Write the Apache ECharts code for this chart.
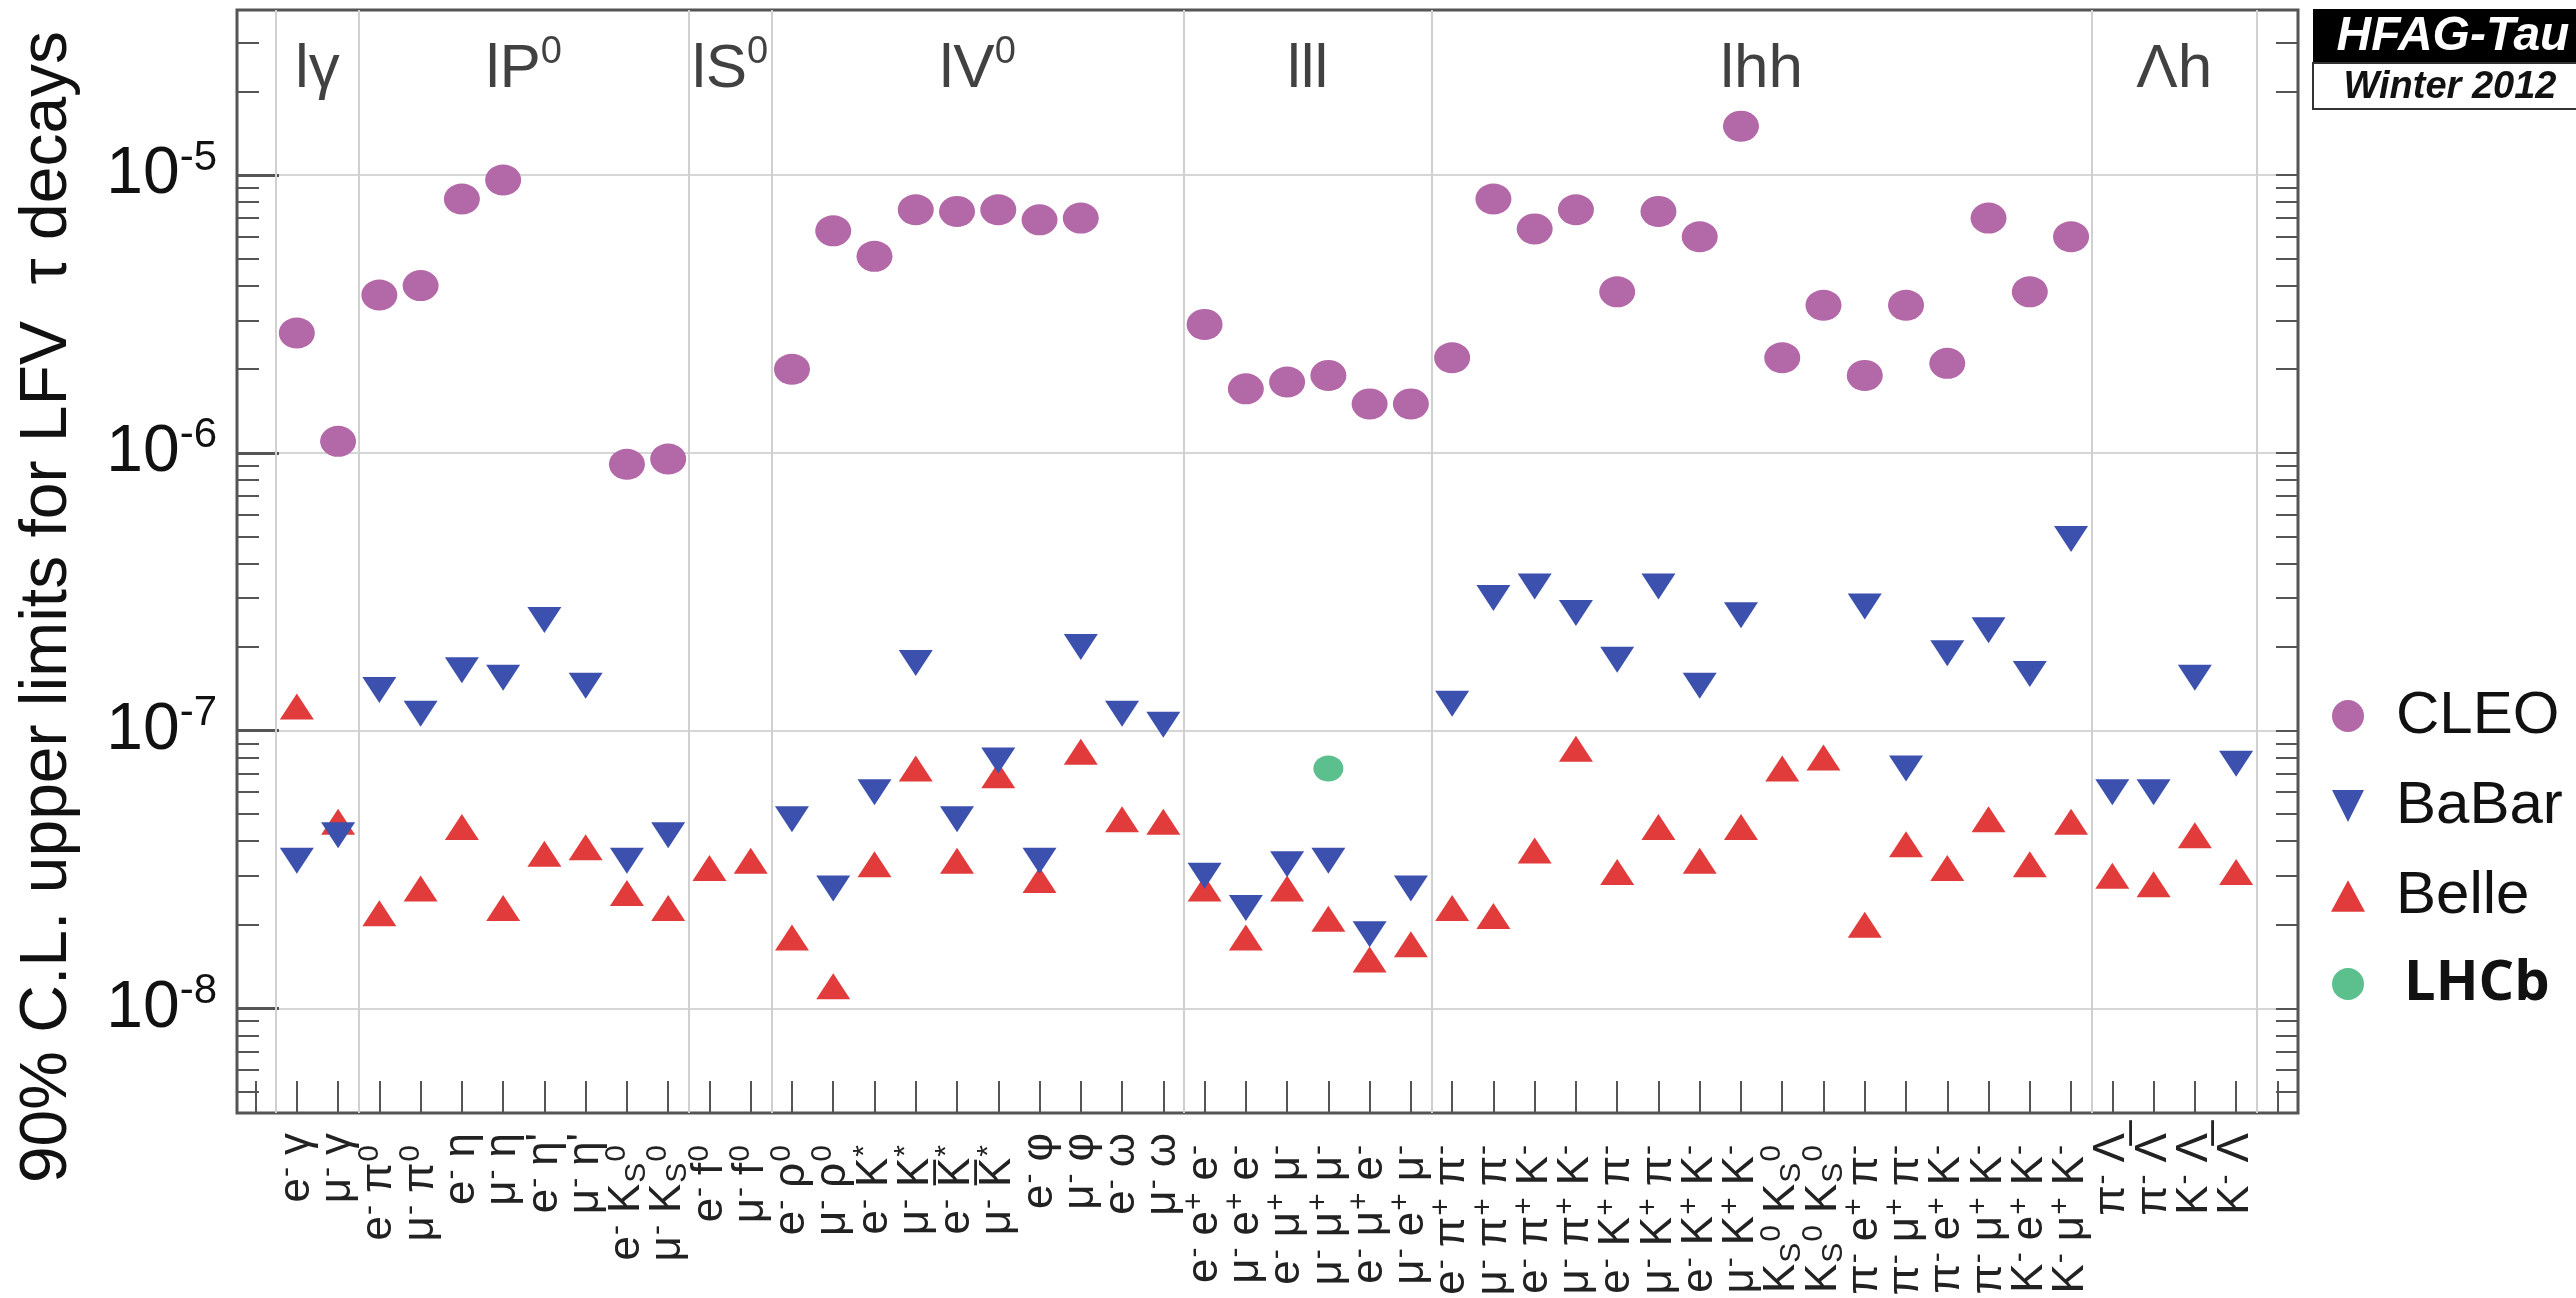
<!DOCTYPE html>
<html>
<head>
<meta charset="utf-8">
<script src="https://cdn.jsdelivr.net/npm/echarts@6/dist/echarts.min.js"></script>
<style>
html, body { margin: 0; padding: 0; background: #fff; }
#chart { width: 2576px; height: 1298px; }
</style>
</head>
<body>
<div id="chart"></div>
<script>
// decay modes, ^x = superscript, _x = subscript, \u0305 = bar
var decays = [
  "e^-γ", "μ^-γ",
  "e^-π^0", "μ^-π^0", "e^-η", "μ^-η", "e^-η'", "μ^-η'", "e^-K_S^0", "μ^-K_S^0",
  "e^-f^0", "μ^-f^0",
  "e^-ρ^0", "μ^-ρ^0", "e^-K^*", "μ^-K^*", "e^-K\u0305^*", "μ^-K\u0305^*", "e^-φ", "μ^-φ", "e^-ω", "μ^-ω",
  "e^-e^+e^-", "μ^-e^+e^-", "e^-μ^+μ^-", "μ^-μ^+μ^-", "e^-μ^+e^-", "μ^-e^+μ^-",
  "e^-π^+π^-", "μ^-π^+π^-", "e^-π^+K^-", "μ^-π^+K^-", "e^-K^+π^-", "μ^-K^+π^-",
  "e^-K^+K^-", "μ^-K^+K^-", "e^-K_S^0K_S^0", "μ^-K_S^0K_S^0",
  "π^-e^+π^-", "π^-μ^+π^-", "π^-e^+K^-", "π^-μ^+K^-", "K^-e^+K^-", "K^-μ^+K^-",
  "π^-Λ", "π^-Λ\u0305", "K^-Λ", "K^-Λ\u0305"
];
var groupNames = ["lγ", "lP^0", "lS^0", "lV^0", "lll", "lhh", "Λh"];
var groupEdges = [-0.5, 1.5, 9.5, 11.5, 21.5, 27.5, 43.5, 47.5];

var cleo = [
  2.7e-6, 1.1e-6,
  3.7e-6, 4.0e-6, 8.2e-6, 9.6e-6, null, null, 9.1e-7, 9.5e-7,
  null, null,
  2.0e-6, 6.3e-6, 5.1e-6, 7.5e-6, 7.4e-6, 7.5e-6, 6.9e-6, 7.0e-6, null, null,
  2.9e-6, 1.7e-6, 1.8e-6, 1.9e-6, 1.5e-6, 1.5e-6,
  2.2e-6, 8.2e-6, 6.4e-6, 7.5e-6, 3.8e-6, 7.4e-6, 6.0e-6, 1.5e-5, 2.2e-6, 3.4e-6,
  1.9e-6, 3.4e-6, 2.1e-6, 7.0e-6, 3.8e-6, 6.0e-6,
  null, null, null, null
];
var babar = [
  3.4e-8, 4.2e-8,
  1.4e-7, 1.15e-7, 1.65e-7, 1.55e-7, 2.5e-7, 1.45e-7, 3.4e-8, 4.2e-8,
  null, null,
  4.8e-8, 2.7e-8, 6.0e-8, 1.75e-7, 4.8e-8, 7.8e-8, 3.4e-8, 2.0e-7, 1.15e-7, 1.05e-7,
  3.0e-8, 2.3e-8, 3.3e-8, 3.4e-8, 1.85e-8, 2.7e-8,
  1.25e-7, 3.0e-7, 3.3e-7, 2.65e-7, 1.8e-7, 3.3e-7, 1.45e-7, 2.6e-7, null, null,
  2.8e-7, 7.3e-8, 1.9e-7, 2.3e-7, 1.6e-7, 4.9e-7,
  6.0e-8, 6.0e-8, 1.55e-7, 7.6e-8
];
var belle = [
  1.22e-7, 4.7e-8,
  2.2e-8, 2.7e-8, 4.5e-8, 2.3e-8, 3.6e-8, 3.8e-8, 2.6e-8, 2.3e-8,
  3.2e-8, 3.4e-8,
  1.8e-8, 1.2e-8, 3.3e-8, 7.3e-8, 3.4e-8, 6.9e-8, 2.9e-8, 8.4e-8, 4.8e-8, 4.7e-8,
  2.7e-8, 1.8e-8, 2.7e-8, 2.1e-8, 1.5e-8, 1.7e-8,
  2.3e-8, 2.15e-8, 3.7e-8, 8.6e-8, 3.1e-8, 4.5e-8, 3.4e-8, 4.5e-8, 7.3e-8, 8.0e-8,
  2.0e-8, 3.9e-8, 3.2e-8, 4.8e-8, 3.3e-8, 4.7e-8,
  3.0e-8, 2.8e-8, 4.2e-8, 3.1e-8
];
var lhcb = [];
lhcb[25] = 7.3e-8;

var yMajorTicks = [1e-8, 1e-7, 1e-6, 1e-5];
var yMinorSteps = [2, 3, 4, 5, 6, 7, 8, 9];
var yDecades = [1e-9, 1e-8, 1e-7, 1e-6, 1e-5];

var yMin = 4.2e-9, yMax = 3.93e-5;
var font = "Liberation Sans";

var minorTicks = [];
yDecades.forEach(function (d) {
  yMinorSteps.forEach(function (m) {
    var v = d * m;
    if (v > yMin && v < yMax) minorTicks.push(v);
  });
});

// ticks run one step past the decays on each side; the end ones carry no text
var xTicks = [-1].concat(decays.map(function (d, i) { return i; }), [48]);

function toPoints(arr) {
  var pts = [];
  for (var i = 0; i < decays.length; i++) {
    if (arr[i] != null) pts.push([i, arr[i]]);
  }
  return pts;
}

function richLabel(s, base, sup, sub) {
  var out = "", run = "";
  function flush() {
    if (run) { out += "{" + base + "|" + run + "}"; run = ""; }
  }
  for (var i = 0; i < s.length; i++) {
    var c = s.charAt(i);
    if (c === "^" || c === "_") {
      flush();
      out += "{" + (c === "^" ? sup : sub) + "|" + s.charAt(i + 1) + "}";
      i++;
    } else {
      run += c;
    }
  }
  flush();
  return out;
}

var groupCenters = groupNames.map(function (g, k) {
  return [(groupEdges[k] + groupEdges[k + 1]) / 2, 2.4e-5];
});

var chart = echarts.init(document.getElementById("chart"));

var option = {
  animation: false,
  backgroundColor: "#fff",
  grid: {
    left: 237, right: 278, top: 10, bottom: 185,
    show: true, borderColor: "#555", borderWidth: 3,
    outerBoundsMode: "none"
  },
  legend: {
    orient: "vertical",
    left: 2326,
    top: 681,
    itemWidth: 34,
    itemHeight: 32,
    itemGap: 30,
    symbolKeepAspect: true,
    selectedMode: false,
    textStyle: { fontSize: 60, fontFamily: font, color: "#111", padding: [0, 0, 0, 26] },
    data: [
      { name: "CLEO", icon: "circle" },
      { name: "BaBar", icon: "path://M0,0 L30,0 L15,30 Z" },
      { name: "Belle", icon: "path://M15,0 L30,28 L0,28 Z" },
      { name: "LHCb", icon: "circle",
        textStyle: { fontWeight: "bold", fontFamily: "Open Sans", fontSize: 56, color: "#111", padding: [0, 0, 0, 34] } }
    ]
  },
  xAxis: {
    type: "value",
    min: -1.45,
    max: 48.5,
    axisLine: { show: false, onZero: false },
    splitLine: { show: false },
    axisTick: {
      show: true, inside: true, length: 32,
      customValues: xTicks,
      lineStyle: { color: "#555", width: 2 }
    },
    axisLabel: {
      show: true,
      rotate: 90,
      margin: 20,
      hideOverlap: false,
      customValues: xTicks,
      formatter: function (v) {
        var d = decays[Math.round(v)];
        return d ? richLabel(d, "b", "p", "q") : "";
      },
      rich: {
        b: { fontSize: 44, fontFamily: font, color: "#222", lineHeight: 50, verticalAlign: "middle" },
        p: { fontSize: 30, fontFamily: font, color: "#222", lineHeight: 30, verticalAlign: "top", padding: [0, 12, 0, 1] },
        q: { fontSize: 30, fontFamily: font, color: "#222", lineHeight: 30, verticalAlign: "bottom", padding: [0, 0, 0, 1] }
      }
    }
  },
  yAxis: [
    {
      type: "log",
      logBase: 10,
      min: yMin,
      max: yMax,
      axisLine: { show: false, onZero: false },
      axisTick: {
        show: true, inside: true, length: 42,
        customValues: yMajorTicks,
        lineStyle: { color: "#555", width: 3 }
      },
      splitLine: { show: true, lineStyle: { color: "#d6d6d6", width: 2 } },
      axisLabel: {
        show: true,
        margin: 20,
        showMinLabel: true,
        showMaxLabel: true,
        customValues: yMajorTicks,
        formatter: function (v) {
          return "{y|10}{ys|" + Math.round(Math.log10(v)) + "}";
        },
        rich: {
          y: { fontSize: 66, fontFamily: font, color: "#111", lineHeight: 76, verticalAlign: "middle" },
          ys: { fontSize: 42, fontFamily: font, color: "#111", lineHeight: 42, verticalAlign: "top" }
        }
      }
    },
    {
      type: "log",
      logBase: 10,
      min: yMin,
      max: yMax,
      position: "left",
      axisLine: { show: false, onZero: false },
      splitLine: { show: false },
      axisLabel: { show: false },
      axisTick: {
        show: true, inside: true, length: 22,
        customValues: minorTicks,
        lineStyle: { color: "#555", width: 2 }
      }
    },
    {
      type: "log",
      logBase: 10,
      min: yMin,
      max: yMax,
      position: "right",
      axisLine: { show: false, onZero: false },
      splitLine: { show: false },
      axisLabel: { show: false },
      axisTick: {
        show: true, inside: true, length: 22,
        customValues: yMajorTicks.concat(minorTicks),
        lineStyle: { color: "#555", width: 2 }
      }
    }
  ],
  graphic: [
    {
      type: "text",
      x: 48, y: 607,
      rotation: Math.PI / 2,
      style: {
        text: "90% C.L. upper limits for LFV  τ decays",
        font: '66px "Liberation Sans"',
        fill: "#111",
        align: "center", verticalAlign: "middle",
        textAlign: "center", textVerticalAlign: "middle"
      }
    },
    {
      type: "rect",
      shape: { x: 2313, y: 9, width: 270, height: 54 },
      style: { fill: "#000" }
    },
    {
      type: "text",
      x: 2453, y: 37,
      style: {
        text: "HFAG-Tau",
        font: 'italic bold 48px "Liberation Sans"',
        fill: "#fff",
        align: "center", verticalAlign: "middle",
        textAlign: "center", textVerticalAlign: "middle"
      }
    },
    {
      type: "rect",
      shape: { x: 2313, y: 63, width: 270, height: 46 },
      style: { fill: "#fff", stroke: "#333", lineWidth: 2 }
    },
    {
      type: "text",
      x: 2450, y: 88,
      style: {
        text: "Winter 2012",
        font: 'italic bold 38px "Liberation Sans"',
        fill: "#111",
        align: "center", verticalAlign: "middle",
        textAlign: "center", textVerticalAlign: "middle"
      }
    }
  ],
  series: [
    {
      name: "groups",
      type: "scatter",
      silent: true,
      symbolSize: 1,
      itemStyle: { color: "rgba(0,0,0,0)" },
      data: groupCenters,
      label: {
        show: true,
        position: "inside",
        formatter: function (p) {
          return richLabel(groupNames[p.dataIndex], "g", "gs", "gs");
        },
        rich: {
          g: { fontSize: 62, fontFamily: font, color: "#111", lineHeight: 72, verticalAlign: "middle" },
          gs: { fontSize: 38, fontFamily: font, color: "#111", lineHeight: 38, verticalAlign: "top" }
        }
      },
      markLine: {
        silent: true,
        symbol: ["none", "none"],
        label: { show: false },
        lineStyle: { color: "#d0d0d0", width: 2, type: "solid" },
        data: groupEdges.map(function (e) { return { xAxis: e }; })
      }
    },
    {
      name: "CLEO",
      type: "scatter",
      symbol: "circle",
      symbolSize: [36, 31],
      itemStyle: { color: "#b368a8", opacity: 1 },
      data: toPoints(cleo)
    },
    {
      name: "Belle",
      type: "scatter",
      symbol: "triangle",
      symbolSize: [34, 26],
      itemStyle: { color: "#e13b3b", opacity: 1 },
      data: toPoints(belle)
    },
    {
      name: "BaBar",
      type: "scatter",
      symbol: "triangle",
      symbolRotate: 180,
      symbolSize: [34, 26],
      itemStyle: { color: "#3c50ae", opacity: 1 },
      data: toPoints(babar)
    },
    {
      name: "LHCb",
      type: "scatter",
      symbol: "circle",
      symbolSize: [30, 26],
      itemStyle: { color: "#5cbf8e", opacity: 1 },
      data: toPoints(lhcb)
    }
  ]
};

chart.setOption(option);
</script>
</body>
</html>
